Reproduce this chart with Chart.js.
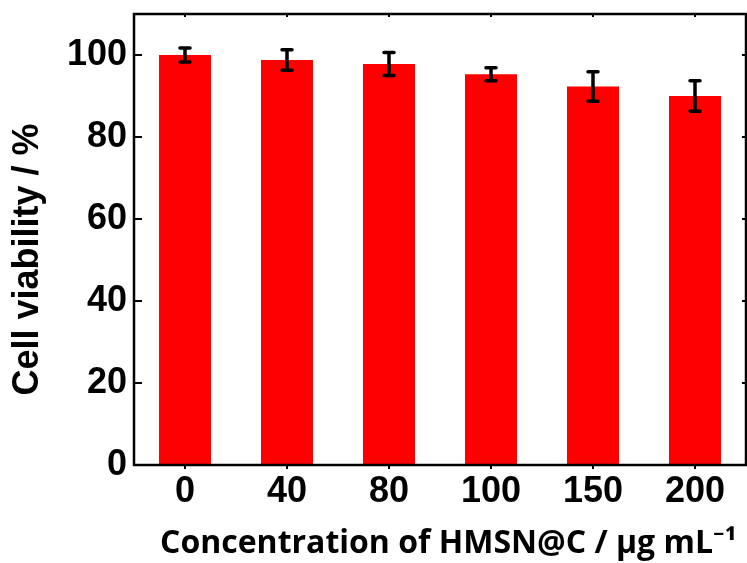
<!DOCTYPE html>
<html>
<head>
<meta charset="utf-8">
<script src="https://cdn.jsdelivr.net/npm/chart.js@4.4.1/dist/chart.umd.min.js"></script>
<style>
  html, body { margin: 0; padding: 0; background: #fff; }
  #wrap { width: 747px; height: 563px; }
</style>
</head>
<body>
<div id="wrap"><canvas id="myChart"></canvas></div>
<script>
// concentrations (ug/mL)
const labels = ['0', '40', '80', '100', '150', '200'];
// cell viability (%) and error bar half-widths
const viability = [100.0, 98.8, 97.8, 95.3, 92.3, 90.0];
const errors = [1.7, 2.5, 2.8, 1.6, 3.6, 3.7];
const yTicks = [0, 20, 40, 60, 80, 100];

const tickFont = { family: "'Liberation Sans', Arial, sans-serif", size: 36, weight: 'bold' };

// error bars + closed frame with inward ticks
const frameAndErrors = {
  id: 'frameAndErrors',
  afterDatasetsDraw(chart) {
    const { ctx, chartArea: a, scales: { x, y } } = chart;
    ctx.save();
    ctx.strokeStyle = '#000';
    ctx.lineWidth = 3.5;
    ctx.lineCap = 'round';
    viability.forEach((v, i) => {
      const px = x.getPixelForValue(i);
      const hi = y.getPixelForValue(v + errors[i]);
      const lo = y.getPixelForValue(v - errors[i]);
      ctx.beginPath();
      ctx.moveTo(px, hi); ctx.lineTo(px, lo);
      ctx.moveTo(px - 5, hi); ctx.lineTo(px + 5, hi);
      ctx.moveTo(px - 5, lo); ctx.lineTo(px + 5, lo);
      ctx.stroke();
    });

    ctx.lineCap = 'butt';
    ctx.lineWidth = 2.5;
    ctx.strokeRect(a.left, a.top, a.right - a.left, a.bottom - a.top);

    ctx.lineWidth = 2;
    ctx.beginPath();
    yTicks.forEach(t => {
      const py = y.getPixelForValue(t);
      ctx.moveTo(a.left, py); ctx.lineTo(a.left + 8, py);
      ctx.moveTo(a.right, py); ctx.lineTo(a.right - 4, py);
    });
    labels.forEach((l, i) => {
      const px = x.getPixelForValue(i);
      ctx.moveTo(px, a.top); ctx.lineTo(px, a.top + 3);
      ctx.moveTo(px, a.bottom); ctx.lineTo(px, a.bottom + 4);
    });
    ctx.stroke();
    ctx.restore();
  }
};

const ctx = document.getElementById('myChart');
new Chart(ctx, {
  type: 'bar',
  data: {
    labels,
    datasets: [{
      label: 'Cell viability',
      data: viability,
      backgroundColor: '#ff0000',
      borderWidth: 0,
      categoryPercentage: 1,
      barPercentage: 0.51
    }]
  },
  options: {
    responsive: true,
    maintainAspectRatio: false,
    animation: false,
    layout: { padding: { top: 14, right: 1, left: 0, bottom: 0 } },
    plugins: {
      legend: { display: false },
      tooltip: { enabled: false }
    },
    scales: {
      x: {
        grid: { display: false, drawTicks: false },
        border: { display: false },
        ticks: { color: '#000', font: tickFont, padding: 5 },
        title: {
          display: true,
          text: '\u00a0\u00a0Concentration of HMSN@C / μg mL⁻¹',
          color: '#000',
          font: { family: "'Open Sans', 'Noto Sans', sans-serif", size: 32, weight: 'bold' },
          padding: { top: 4, bottom: 0 }
        },
        afterFit: s => { s.height = 98; s.paddingLeft = 0; s.paddingRight = 0; }
      },
      y: {
        min: 0,
        max: 110,
        grid: { display: false, drawTicks: false },
        border: { display: false },
        afterBuildTicks: s => { s.ticks = yTicks.map(v => ({ value: v })); },
        ticks: { color: '#000', font: tickFont, padding: 7 },
        title: {
          display: true,
          text: 'Cell viability / %\u00a0\u00a0\u00a0\u00a0',
          color: '#000',
          font: { family: "'Liberation Sans', Arial, sans-serif", size: 36, weight: 'bold' },
          padding: { top: 6, bottom: 0 }
        },
        afterFit: s => { s.width = 134; s.paddingTop = 0; s.paddingBottom = 0; }
      }
    }
  },
  plugins: [frameAndErrors]
});
</script>
</body>
</html>
